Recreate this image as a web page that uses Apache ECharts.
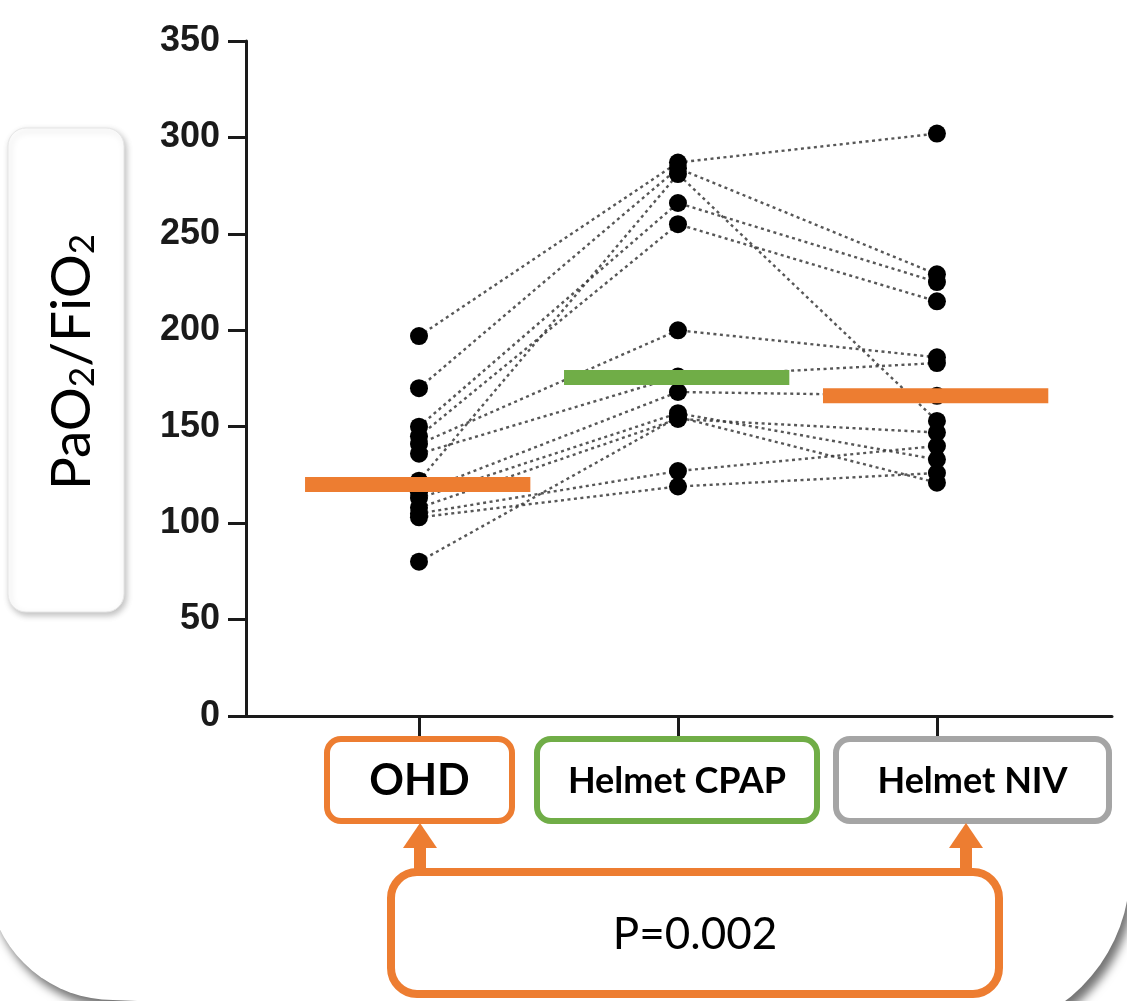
<!DOCTYPE html>
<html>
<head>
<meta charset="utf-8">
<script src="https://cdn.jsdelivr.net/npm/echarts@6/dist/echarts.min.js"></script>
<style>
  html, body { margin: 0; padding: 0; background: #fff; }
  #chart { width: 1127px; height: 1001px; }
</style>
</head>
<body>
<div id="chart"></div>
<script>
// groups on the x axis
const categories = ['OHD', 'Helmet CPAP', 'Helmet NIV']
// paired PaO2/FiO2 per patient
const ohd  = [197, 170, 150, 145, 141, 136, 122, 116, 113, 108, 105, 103, 80]
const cpap = [287, 284, 266, 255, 200, 176, 281, 168, 157, 154, 127, 119, 155]
const niv  = [302, 229, 225, 215, 186, 183, 153, 166, 133, 147, 140, 126, 121]
// group means (thick bars)
const means = [120, 175.5, 166]
const meanColors = ['#ED7D31', '#70AD47', '#ED7D31']
const boxColors = ['#ED7D31', '#70AD47', '#A5A5A5']
const yTicks = [0, 50, 100, 150, 200, 250, 300, 350]
const pText = 'P=0.002'

const chart = echarts.init(document.getElementById('chart'))

const groups = [ohd, cpap, niv]

const lineSeries = ohd.map((_, i) => ({
  type: 'line',
  data: groups.map((g, k) => [k, g[i]]),
  symbol: 'none',
  silent: true,
  z: 2,
  lineStyle: { color: '#3a3a3a', width: 2.4, type: [3, 3.5], opacity: 0.85 }
}))

const dotSeries = groups.map((g, k) => ({
  type: 'scatter',
  data: g.map(v => [k, v]),
  symbol: 'circle',
  symbolSize: 18,
  itemStyle: { color: '#000', opacity: 1 },
  z: 3
}))

const meanSeries = means.map((m, k) => ({
  type: 'line',
  data: [[k - 0.44, m], [k + 0.43, m]],
  symbol: 'none',
  z: 4,
  lineStyle: { color: meanColors[k], width: 15, cap: 'butt' }
}))

// slide card outline (decoration)
function cardPoints() {
  const pts = [[-13, -20], [1130, -20]]
  for (let a = 0; a <= 90; a += 5) {
    const t = a * Math.PI / 180
    pts.push([965 + 165 * Math.cos(t), 870 + 165 * Math.sin(t)])
  }
  for (let a = 90; a <= 180; a += 5) {
    const t = a * Math.PI / 180
    pts.push([113 + 126 * Math.cos(t), 874 + 126 * Math.sin(t)])
  }
  return pts
}

const boxX = [[327, 512], [537, 817], [836, 1109]]
const labelBoxes = categories.map((c, k) => ({
  type: 'group',
  z: 100,
  children: [
    {
      type: 'rect',
      shape: { x: boxX[k][0], y: 739, width: boxX[k][1] - boxX[k][0], height: 82, r: 14 },
      style: { fill: '#fff', stroke: boxColors[k], lineWidth: 6 }
    },
    {
      type: 'text',
      x: (boxX[k][0] + boxX[k][1]) / 2,
      y: 781,
      style: {
        text: c,
        fill: '#000',
        font: k === 0 ? 'bold 43px Lato' : 'bold 36px Lato',
        align: 'center',
        verticalAlign: 'middle'
      }
    }
  ]
}))

function arrow(cx) {
  return [
    { type: 'rect', z: 100, shape: { x: cx - 6, y: 844, width: 12, height: 28 }, style: { fill: '#ED7D31' } },
    { type: 'polygon', z: 100, shape: { points: [[cx - 17, 848], [cx + 17, 848], [cx, 823]] }, style: { fill: '#ED7D31' } }
  ]
}

chart.setOption({
  backgroundColor: '#fff',
  animation: false,
  grid: { left: 246, right: 15, top: 41, bottom: 285, outerBoundsMode: 'none', containLabel: false },
  xAxis: {
    type: 'value',
    min: -0.668,
    max: 2.676,
    axisLine: { show: true, onZero: false, lineStyle: { color: '#1a1a1a', width: 3 } },
    axisTick: { show: true, customValues: [0, 1, 2], length: 20, lineStyle: { color: '#1a1a1a', width: 3 } },
    axisLabel: { show: false },
    splitLine: { show: false }
  },
  yAxis: {
    type: 'value',
    min: yTicks[0],
    max: yTicks[yTicks.length - 1],
    interval: 50,
    axisLine: { show: true, onZero: false, lineStyle: { color: '#1a1a1a', width: 3 } },
    axisTick: { show: true, length: 18, lineStyle: { color: '#1a1a1a', width: 3 } },
    axisLabel: {
      margin: 26,
      color: '#1a1a1a',
      fontFamily: 'Liberation Sans',
      fontWeight: 'bold',
      fontSize: 36
    },
    splitLine: { show: false }
  },
  graphic: [
    {
      type: 'polygon',
      z: -10,
      silent: true,
      shape: { points: cardPoints() },
      style: { fill: '#fff', shadowBlur: 10, shadowColor: 'rgba(0,0,0,0.55)', shadowOffsetX: 5, shadowOffsetY: 8 }
    },
    {
      type: 'group',
      z: 100,
      children: [
        {
          type: 'rect',
          shape: { x: 8, y: 128, width: 116, height: 484, r: 18 },
          style: { fill: '#fff', stroke: '#e6e6e6', lineWidth: 1, shadowBlur: 6, shadowColor: 'rgba(0,0,0,0.25)', shadowOffsetX: 2, shadowOffsetY: 3 }
        },
        {
          type: 'text',
          x: 68,
          y: 362,
          rotation: Math.PI / 2,
          style: {
            text: '{n|PaO}{s|2}{n|/FiO}{s|2}',
            align: 'center',
            verticalAlign: 'middle',
            rich: {
              n: { fontFamily: 'Lato', fontSize: 55, lineHeight: 64, verticalAlign: 'bottom', fill: '#000' },
              s: { fontFamily: 'Lato', fontSize: 35, lineHeight: 36, verticalAlign: 'bottom', fill: '#000' }
            }
          }
        }
      ]
    },
    ...labelBoxes,
    ...arrow(420),
    ...arrow(966),
    {
      type: 'group',
      z: 100,
      children: [
        {
          type: 'rect',
          shape: { x: 391, y: 872, width: 608, height: 122, r: 26 },
          style: { fill: '#fff', stroke: '#ED7D31', lineWidth: 8 }
        },
        {
          type: 'text',
          x: 695,
          y: 935,
          style: { text: pText, fill: '#000', font: '44px Lato', align: 'center', verticalAlign: 'middle' }
        }
      ]
    }
  ],
  series: [...lineSeries, ...dotSeries, ...meanSeries]
})
</script>
</body>
</html>
